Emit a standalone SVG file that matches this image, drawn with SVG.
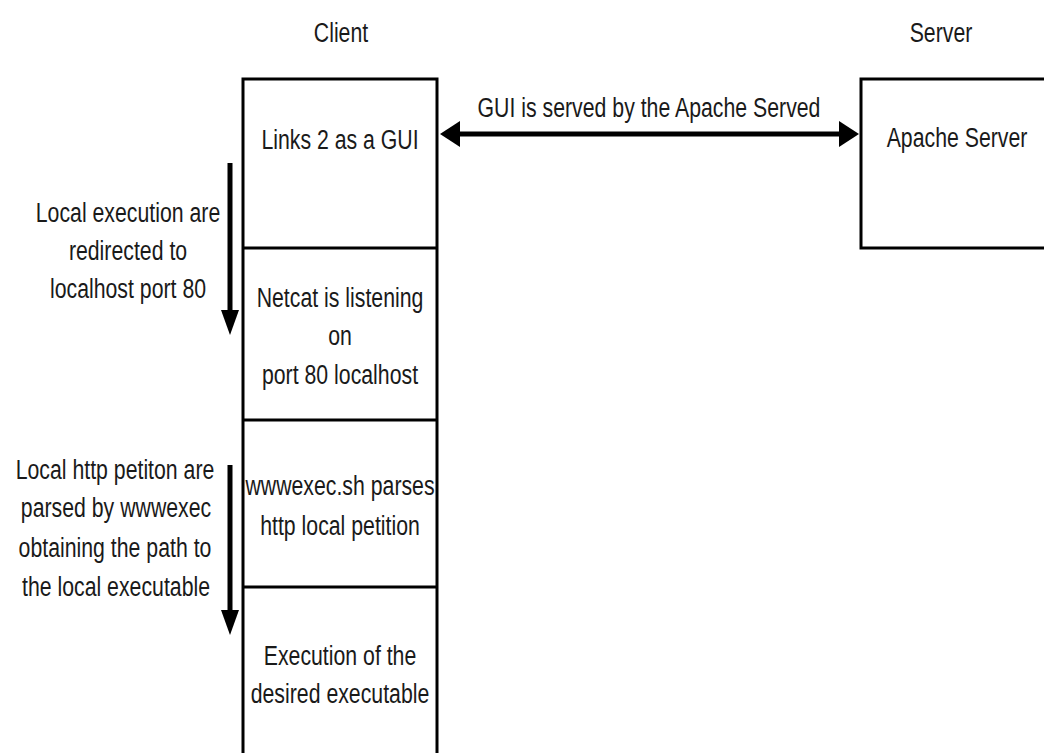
<svg xmlns="http://www.w3.org/2000/svg" width="1044" height="753" viewBox="0 0 1044 753">
  <style>
    .t { font-family: "Liberation Sans", Arial, sans-serif; font-size: 28px; fill: #1a1a1a; text-anchor: middle; }
    .box { fill: #ffffff; stroke: #000000; stroke-width: 3; }
    .div { stroke: #000000; stroke-width: 3; }
    .conn { stroke: #000000; stroke-width: 5; fill: none; }
  </style>
  <defs>
    <marker id="ah" markerUnits="userSpaceOnUse" markerWidth="20" markerHeight="26" refX="2" refY="13" orient="auto-start-reverse">
      <path d="M0,0 L20,13 L0,26 Z" fill="#000000"/>
    </marker>
    <marker id="av" markerUnits="userSpaceOnUse" markerWidth="25" markerHeight="18" refX="2" refY="9" orient="auto">
      <path d="M0,0 L25,9 L0,18 Z" fill="#000000"/>
    </marker>
  </defs>
  <rect width="1044" height="753" fill="#ffffff"/>

  <text class="t" transform="translate(341,42) scale(0.76,1)">Client</text>
  <text class="t" transform="translate(941,42) scale(0.76,1)">Server</text>

  <g id="client-stack">
    <rect class="box" x="243" y="79" width="194" height="690"/>
  </g>
  <g id="links">
    <text class="t" transform="translate(340,149) scale(0.76,1)">Links 2 as a GUI</text>
  </g>
  <g id="netcat">
    <line class="div" x1="243" y1="248" x2="437" y2="248"/>
    <text class="t" transform="translate(340,307) scale(0.76,1)">Netcat is listening</text>
    <text class="t" transform="translate(340,345) scale(0.76,1)">on</text>
    <text class="t" transform="translate(340,384) scale(0.76,1)">port 80 localhost</text>
  </g>
  <g id="wwwexec">
    <line class="div" x1="243" y1="420" x2="437" y2="420"/>
    <text class="t" transform="translate(340,495) scale(0.76,1)">wwwexec.sh parses</text>
    <text class="t" transform="translate(340,535) scale(0.76,1)">http local petition</text>
  </g>
  <g id="execution">
    <line class="div" x1="243" y1="587" x2="437" y2="587"/>
    <text class="t" transform="translate(340,665) scale(0.76,1)">Execution of the</text>
    <text class="t" transform="translate(340,703) scale(0.76,1)">desired executable</text>
  </g>
  <g id="apache">
    <rect class="box" x="861" y="79" width="200" height="169"/>
    <text class="t" transform="translate(957,147) scale(0.76,1)">Apache Server</text>
  </g>

  <g id="connectors">
    <line class="conn" x1="458" y1="134" x2="841" y2="134" marker-start="url(#ah)" marker-end="url(#ah)"/>
    <text class="t" transform="translate(649,117) scale(0.76,1)">GUI is served by the Apache Served</text>
    <line class="conn" x1="230" y1="163" x2="230" y2="312" marker-end="url(#av)"/>
    <text class="t" transform="translate(128,222) scale(0.76,1)">Local execution are</text>
    <text class="t" transform="translate(128,260) scale(0.76,1)">redirected to</text>
    <text class="t" transform="translate(128,298) scale(0.76,1)">localhost port 80</text>
    <line class="conn" x1="230" y1="465" x2="230" y2="612" marker-end="url(#av)"/>
    <text class="t" transform="translate(115,479) scale(0.76,1)">Local http petiton are</text>
    <text class="t" transform="translate(116,517) scale(0.76,1)">parsed by wwwexec</text>
    <text class="t" transform="translate(115,557) scale(0.76,1)">obtaining the path to</text>
    <text class="t" transform="translate(116,596) scale(0.76,1)">the local executable</text>
  </g>
</svg>
